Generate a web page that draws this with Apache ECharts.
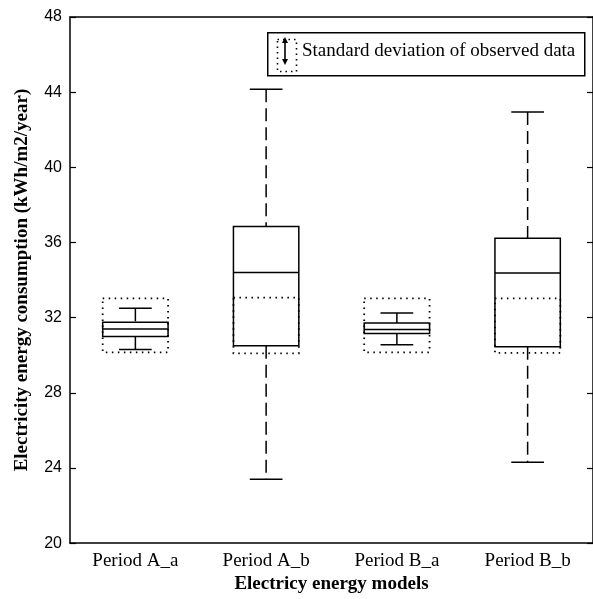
<!DOCTYPE html>
<html>
<head>
<meta charset="utf-8">
<script src="https://cdn.jsdelivr.net/npm/echarts@6/dist/echarts.min.js"></script>
<style>
html,body{margin:0;padding:0;background:#fff;}
#chart{width:593px;height:599px;}
</style>
</head>
<body>
<div id="chart"></div>
<script>
// ---- data ----
var categories = ['Period A_a', 'Period A_b', 'Period B_a', 'Period B_b'];
var lowerWhisker = [30.3, 23.4, 30.55, 24.3];
var q1 = [31.0, 30.5, 31.15, 30.45];
var median = [31.4, 34.4, 31.37, 34.37];
var q3 = [31.75, 36.85, 31.72, 36.23];
var upperWhisker = [32.5, 44.15, 32.25, 42.95];
var obsStdLow = [30.15, 30.1, 30.15, 30.12];
var obsStdHigh = [33.02, 33.06, 33.02, 33.02];
var yTicks = [20, 24, 28, 32, 36, 40, 44, 48];
var legendText = 'Standard deviation of observed data';

var rows = categories.map(function (c, i) {
  return [i, lowerWhisker[i], q1[i], median[i], q3[i], upperWhisker[i], obsStdLow[i], obsStdHigh[i]];
});

var serif = '"Liberation Serif", "Times New Roman", serif';
var sans = '"Liberation Sans", Arial, sans-serif';

var chart = echarts.init(document.getElementById('chart'), null, {renderer: 'canvas'});

function renderItem(params, api) {
  var i = api.value(0);
  var x = api.coord([i, yTicks[0]])[0];
  var band = api.size([1, 0])[0];
  var bw = band * 0.5;
  function Y(k) { return api.coord([i, api.value(k)])[1]; }
  var yLW = Y(1), yQ1 = Y(2), yMed = Y(3), yQ3 = Y(4), yUW = Y(5), ySL = Y(6), ySH = Y(7);
  var stroke = '#000';
  return {
    type: 'group',
    children: [
      {type: 'rect', shape: {x: x - bw / 2, y: ySH, width: bw, height: ySL - ySH},
        style: {fill: null, stroke: stroke, lineWidth: 1.8, lineDash: [1.5, 4.5]}},
      {type: 'line', shape: {x1: x, y1: yUW, x2: x, y2: yQ3},
        style: {stroke: stroke, lineWidth: 1.5, lineDash: [13, 6]}},
      {type: 'line', shape: {x1: x, y1: yQ1, x2: x, y2: yLW},
        style: {stroke: stroke, lineWidth: 1.5, lineDash: [13, 6]}},
      {type: 'line', shape: {x1: x - bw / 4, y1: yUW, x2: x + bw / 4, y2: yUW},
        style: {stroke: stroke, lineWidth: 1.5}},
      {type: 'line', shape: {x1: x - bw / 4, y1: yLW, x2: x + bw / 4, y2: yLW},
        style: {stroke: stroke, lineWidth: 1.5}},
      {type: 'rect', shape: {x: x - bw / 2, y: yQ3, width: bw, height: yQ1 - yQ3},
        style: {fill: null, stroke: stroke, lineWidth: 1.5}},
      {type: 'line', shape: {x1: x - bw / 2, y1: yMed, x2: x + bw / 2, y2: yMed},
        style: {stroke: stroke, lineWidth: 1.5}}
    ]
  };
}

var axisLineStyle = {color: '#000', width: 1.5};

var option = {
  backgroundColor: '#fff',
  animation: false,
  grid: {left: 70, right: -2, top: 17, bottom: 54, containLabel: false},
  xAxis: [
    {
      type: 'category', data: categories, position: 'bottom', boundaryGap: true,
      axisLine: {show: true, lineStyle: axisLineStyle},
      axisTick: {show: false},
      axisLabel: {color: '#000', fontFamily: serif, fontSize: 19, margin: 8},
      splitLine: {show: false},
      name: 'Electricy energy models', nameLocation: 'middle', nameGap: 31,
      nameTextStyle: {color: '#000', fontFamily: serif, fontWeight: 'bold', fontSize: 19}
    },
    {
      type: 'category', data: categories, position: 'top', boundaryGap: true,
      axisLine: {show: true, lineStyle: axisLineStyle},
      axisTick: {show: false}, axisLabel: {show: false}, splitLine: {show: false}
    }
  ],
  yAxis: [
    {
      type: 'value', min: yTicks[0], max: yTicks[yTicks.length - 1], interval: 4, position: 'left',
      axisLine: {show: true, lineStyle: axisLineStyle},
      axisTick: {show: true, inside: true, length: 6, lineStyle: {color: '#000', width: 1.2}},
      axisLabel: {color: '#000', fontFamily: sans, fontSize: 16, margin: 8},
      splitLine: {show: false},
      name: 'Electricity energy consumption (kWh/m2/year)', nameLocation: 'middle', nameGap: 38, nameRotate: 90,
      nameTextStyle: {color: '#000', fontFamily: serif, fontWeight: 'bold', fontSize: 19}
    },
    {
      type: 'value', min: yTicks[0], max: yTicks[yTicks.length - 1], interval: 4, position: 'right',
      axisLine: {show: true, lineStyle: axisLineStyle},
      axisTick: {show: true, inside: true, length: 6, lineStyle: {color: '#000', width: 1.2}},
      axisLabel: {show: false}, splitLine: {show: false}
    }
  ],
  series: [{
    type: 'custom',
    xAxisIndex: 0, yAxisIndex: 0,
    renderItem: renderItem,
    encode: {x: 0, y: [1, 2, 3, 4, 5, 6, 7]},
    data: rows,
    clip: false,
    silent: true
  }],
  graphic: [
    {type: 'rect', left: 267, top: 32, shape: {width: 317, height: 43},
      style: {fill: '#fff', stroke: '#000', lineWidth: 1.5}, z: 100},
    {type: 'rect', left: 275, top: 37, shape: {width: 19, height: 32},
      style: {fill: null, stroke: '#000', lineWidth: 1.6, lineDash: [1.5, 4]}, z: 101},
    {type: 'line', shape: {x1: 285, y1: 41, x2: 285, y2: 61},
      style: {stroke: '#000', lineWidth: 1.6}, z: 101},
    {type: 'polygon', shape: {points: [[285, 37], [282, 43], [288, 43]]},
      style: {fill: '#000'}, z: 101},
    {type: 'polygon', shape: {points: [[285, 65], [282, 59], [288, 59]]},
      style: {fill: '#000'}, z: 101},
    {type: 'text', left: 302, top: 42,
      style: {text: legendText, fontFamily: serif, fontSize: 19, fill: '#000'}, z: 101}
  ]
};
chart.setOption(option);
</script>
</body>
</html>
